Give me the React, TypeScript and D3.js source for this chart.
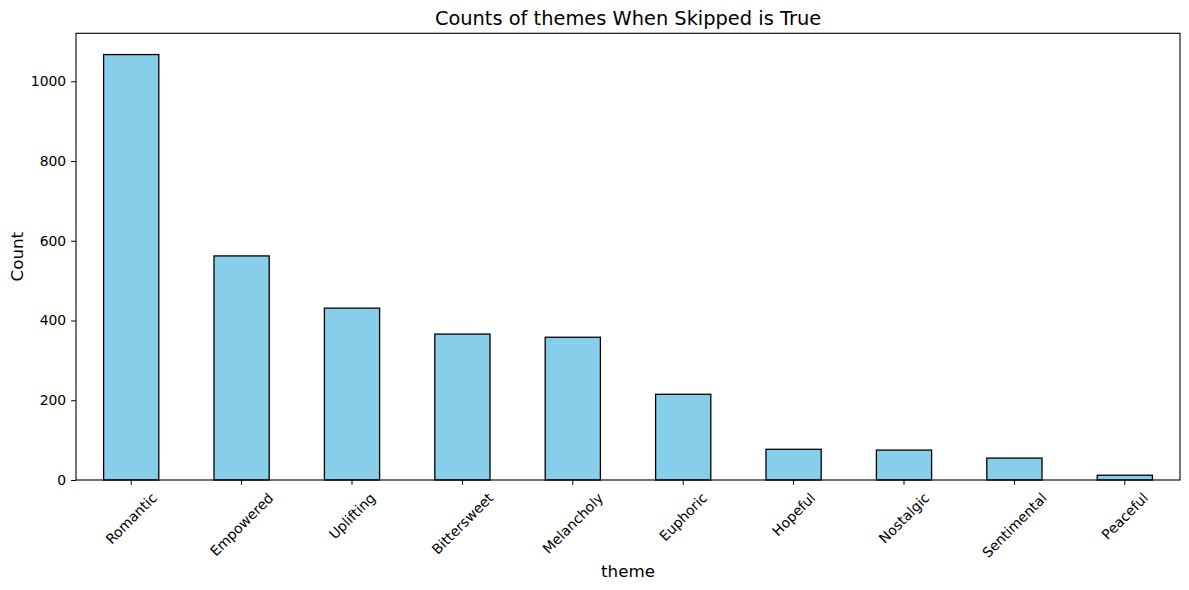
import { useEffect, useRef } from "react";
import * as d3 from "d3";

const themes = [
  "Romantic",
  "Empowered",
  "Uplifting",
  "Bittersweet",
  "Melancholy",
  "Euphoric",
  "Hopeful",
  "Nostalgic",
  "Sentimental",
  "Peaceful",
];
const counts = [1067, 562, 431, 366, 358, 215, 77, 75, 55, 12];
const yTicks = [0, 200, 400, 600, 800, 1000];

const App = () => {
  const svgRef = useRef<SVGSVGElement | null>(null);

  useEffect(() => {
    const width = 1189;
    const height = 590;
    const margin = { top: 33.3, right: 9, bottom: 110, left: 76 };
    const innerWidth = width - margin.left - margin.right;
    const innerHeight = height - margin.top - margin.bottom;
    const font = "DejaVu Sans, sans-serif";

    const svg = d3.select(svgRef.current);
    svg.selectAll("*").remove();
    svg.attr("width", width).attr("height", height);

    const g = svg
      .append("g")
      .attr("transform", `translate(${margin.left},${margin.top})`);

    // band scale mimics matplotlib's bar layout (width 0.5, xlim -0.5..n-0.5)
    const x = d3
      .scaleBand()
      .domain(themes)
      .range([0, innerWidth])
      .paddingInner(0.5)
      .paddingOuter(0.25);

    const y = d3
      .scaleLinear()
      .domain([0, d3.max(counts)! * 1.05])
      .range([innerHeight, 0]);

    // bars
    g.selectAll(".bar")
      .data(themes)
      .enter()
      .append("rect")
      .attr("class", "bar")
      .attr("x", (d) => x(d)!)
      .attr("y", (d, i) => y(counts[i]))
      .attr("width", x.bandwidth())
      .attr("height", (d, i) => innerHeight - y(counts[i]))
      .attr("fill", "#87ceeb")
      .attr("stroke", "#000")
      .attr("stroke-width", 1.3);

    // frame
    g.append("rect")
      .attr("width", innerWidth)
      .attr("height", innerHeight)
      .attr("fill", "none")
      .attr("stroke", "#000")
      .attr("stroke-width", 1.1);

    // y axis
    const yAxis = g
      .append("g")
      .call(
        d3
          .axisLeft(y)
          .tickValues(yTicks)
          .tickSize(4.9)
          .tickPadding(4.9)
          .tickFormat((d) => String(d))
      );
    yAxis.select(".domain").remove();
    yAxis.selectAll("line").attr("stroke", "#000").attr("stroke-width", 1);
    yAxis
      .selectAll("text")
      .attr("fill", "#000")
      .style("font-family", font)
      .style("font-size", "13.9px");

    // x axis ticks
    const xAxis = g
      .append("g")
      .attr("transform", `translate(0,${innerHeight})`)
      .call(d3.axisBottom(x).tickSize(4.9).tickFormat(() => ""));
    xAxis.select(".domain").remove();
    xAxis.selectAll("line").attr("stroke", "#000").attr("stroke-width", 1);

    // rotated x labels, centred on the tick like matplotlib's rotation=45
    const fs = 13.9;
    const s = Math.SQRT1_2;
    themes.forEach((t) => {
      const txt = g
        .append("text")
        .attr("text-anchor", "middle")
        .attr("dominant-baseline", "central")
        .style("font-family", font)
        .style("font-size", `${fs}px`)
        .attr("fill", "#000")
        .text(t);
      const len = (txt.node() as SVGTextElement).getComputedTextLength();
      const boxH = (len + fs * 1.15) * s;
      const cx = x(t)! + x.bandwidth() / 2;
      const cy = innerHeight + 9.7 + boxH / 2;
      txt.attr("transform", `translate(${cx},${cy}) rotate(-45)`);
    });

    // title
    svg
      .append("text")
      .attr("x", margin.left + innerWidth / 2)
      .attr("y", 25)
      .attr("text-anchor", "middle")
      .style("font-family", font)
      .style("font-size", "19.4px")
      .attr("fill", "#000")
      .text("Counts of themes When Skipped is True");

    // axis labels
    svg
      .append("text")
      .attr("x", margin.left + innerWidth / 2)
      .attr("y", 577)
      .attr("text-anchor", "middle")
      .style("font-family", font)
      .style("font-size", "16.7px")
      .attr("fill", "#000")
      .text("theme");

    svg
      .append("text")
      .attr("transform", "rotate(-90)")
      .attr("x", -(margin.top + innerHeight / 2))
      .attr("y", 23)
      .attr("text-anchor", "middle")
      .style("font-family", font)
      .style("font-size", "16.7px")
      .attr("fill", "#000")
      .text("Count");
  }, []);

  return (
    <div style={{ margin: -8 }}>
      <svg ref={svgRef} style={{ display: "block", background: "#fff" }}></svg>
    </div>
  );
};

export default App;
